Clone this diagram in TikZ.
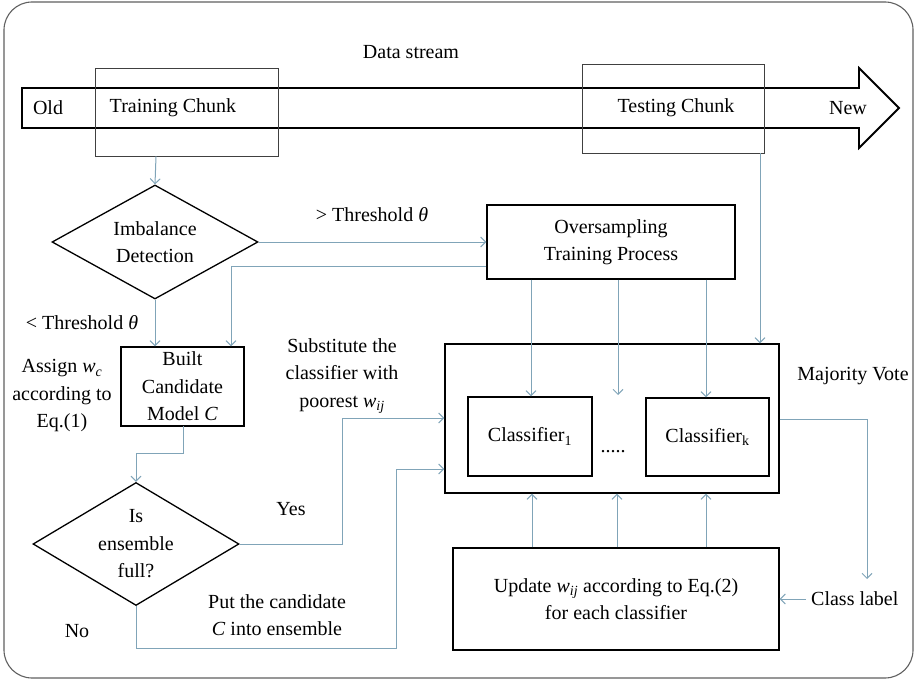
\documentclass[tikz,border=0pt]{standalone}
\usepackage{fontspec}
\setmainfont{Liberation Serif}
\usetikzlibrary{shapes.geometric,arrows.meta}
\definecolor{linkblue}{RGB}{128,164,184}
\definecolor{framegray}{RGB}{96,96,96}
\newcommand{\wsub}[1]{\textit{w}\textsubscript{\textit{#1}}}
\begin{document}
\begin{tikzpicture}[x=1pt,y=-1pt,
  every node/.style={font=\fontsize{20}{27.5}\selectfont},
  txt/.style={align=center,inner sep=0pt},
  procbox/.style={draw=black,line width=1.3pt,inner sep=0pt},
  chunkbox/.style={draw=black!75,line width=0.9pt,inner sep=0pt},
  decision/.style={draw=black,line width=1.3pt,shape=diamond,inner sep=0pt},
  link/.style={draw=linkblue,line width=1pt,-{Straight Barb[length=5pt,width=10pt]}}]
\useasboundingbox (0,0) rectangle (923,682);
% outer frame
\draw[framegray,line width=1.1pt,rounded corners=28pt] (4,2) rectangle (913,678);

% data stream arrow
\draw[black,line width=1.8pt] (22,88) -- (859,88) -- (859,68) -- (899,108)
  -- (859,148) -- (859,128) -- (22,128) -- cycle;
\node[txt] (ds) at (411,52) {Data stream};
\node[txt] (old) at (48,108) {Old};
\node[txt] (new) at (848,108) {New};

% chunks on the stream
\node[chunkbox,minimum width=183pt,minimum height=88pt] (train) at (186.5,112) {};
\node[txt] at (173,108) {Training Chunk};
\node[chunkbox,minimum width=182pt,minimum height=89pt] (test) at (673,108.5) {};
\node[txt] at (676,108) {Testing Chunk};

% imbalance detection
\node[decision,minimum width=206pt,minimum height=114pt] (imb) at (155,242) {};
\node[txt] at (imb) {Imbalance\\Detection};
\node[txt] (gt) at (372,215) {> Threshold \textit{θ}};
\node[txt] (lt) at (82,323) {< Threshold \textit{θ}};

% oversampling
\node[procbox,minimum width=248pt,minimum height=74pt] (over) at (611,242) {};
\node[txt] at (611,242) {Oversampling\\Training Process};

% candidate model
\node[procbox,minimum width=123pt,minimum height=79pt] (cand) at (182.5,386.5) {};
\node[txt] at (cand) {Built\\Candidate\\Model \textit{C}};
\node[txt] (assign) at (62,396) {Assign \wsub{c}\\according to\\Eq.(1)};
\coordinate (candout) at (183,426);

% ensemble
\node[procbox,minimum width=334pt,minimum height=149pt] (ens) at (612,418.5) {};
\node[procbox,minimum width=124pt,minimum height=79pt] (c1) at (530,436.5) {};
\node[txt] at (c1) {Classifier\textsubscript{1}};
\node[procbox,minimum width=123pt,minimum height=78pt] (ck) at (707.5,437) {};
\node[txt] at (ck) {Classifier\textsubscript{k}};
\node[txt] (dots) at (613,452) {.....};
\node[txt] (mv) at (853,376) {Majority Vote};
\coordinate (cmid) at (618,395);

% ensemble full?
\node[decision,minimum width=206pt,minimum height=123pt] (full) at (136,544) {};
\node[txt] at (full) {Is\\ensemble\\full?};
\node[txt] (yes) at (291,509) {Yes};
\node[txt] (no) at (77,631) {No};
\node[txt] (subst) at (342,376) {Substitute the\\classifier with\\poorest \wsub{ij}};
\node[txt] (put) at (277,615) {Put the candidate\\\textit{C} into ensemble};

% update
\node[procbox,minimum width=326pt,minimum height=102pt] (upd) at (616,599) {};
\node[txt] at (upd) {Update \wsub{ij} according to Eq.(2)\\for each classifier};
\node[txt,anchor=west] (cl) at (811,599) {Class label};

% connectors
\draw[link] (train.south -| 156,0) -- (imb.north);
\draw[link] (test.south -| 760,0) -- (ens.north -| 760,0);
\draw[link] (imb.east) -- (over.west |- imb.east);
\draw[link] (over.west |- 0,266) -- (231,266) -- (cand.north -| 231,0);
\draw[link] (imb.south) -- (cand.north -| imb.south);
\draw[link] (candout) -- (183,453) -- (136,453) -- (full.north);
\draw[link] (full.east) -- (342,544) -- (342,418) -- (ens.west |- 0,418);
\draw[link] (full.south) -- (136,648) -- (396,648) -- (396,469) -- (ens.west |- 0,469);
\draw[link] (over.south -| 531,0) -- (c1.north -| 531,0);
\draw[link] (over.south -| 618,0) -- (cmid);
\draw[link] (over.south -| 706,0) -- (ck.north -| 706,0);
\draw[link] (upd.north -| 532,0) -- (ens.south -| 532,0);
\draw[link] (upd.north -| 617,0) -- (ens.south -| 617,0);
\draw[link] (upd.north -| 706,0) -- (ens.south -| 706,0);
\draw[link] (ens.east |- 0,419) -- (867,419) -- (867,579);
\draw[link] (cl.west) ++(-5,0) -- (upd.east |- cl.west);
\end{tikzpicture}
\end{document}
